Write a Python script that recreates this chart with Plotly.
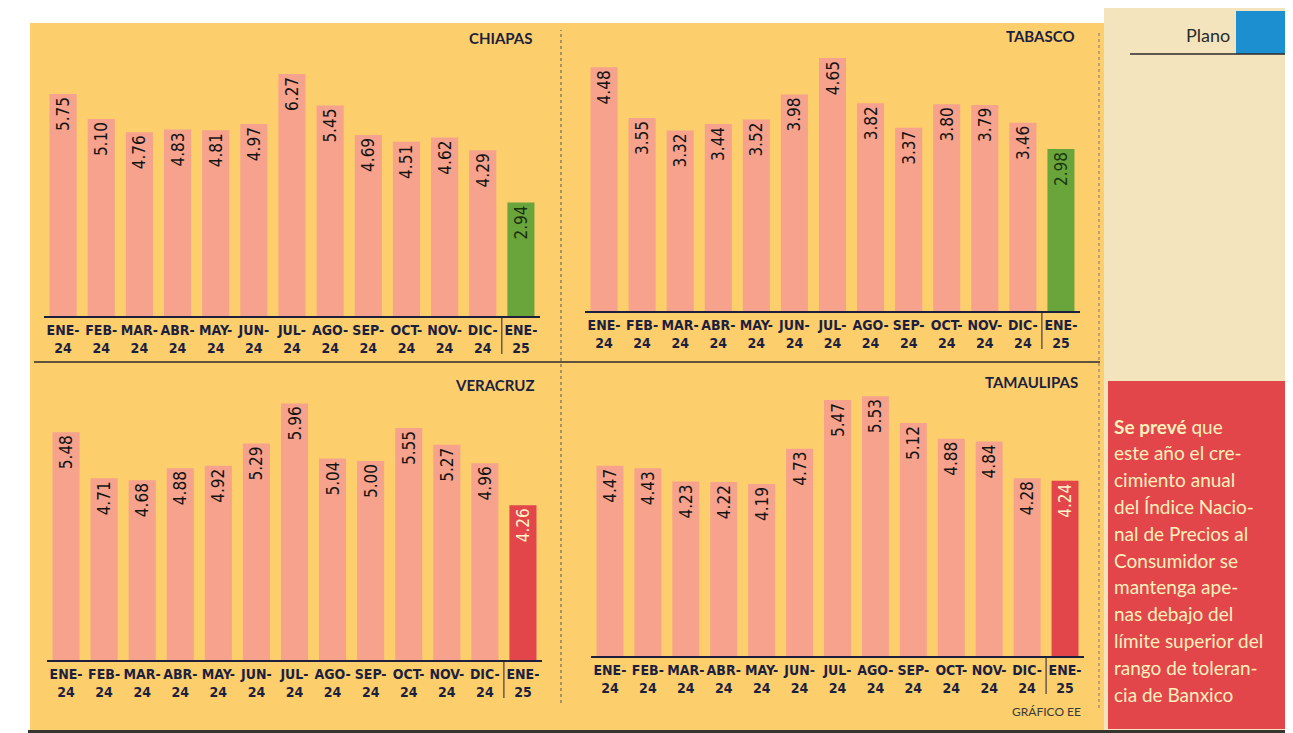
import plotly.graph_objects as go

W, H = 1293, 733

months = ["ENE-24", "FEB-24", "MAR-24", "ABR-24", "MAY-24", "JUN-24", "JUL-24",
          "AGO-24", "SEP-24", "OCT-24", "NOV-24", "DIC-24", "ENE-25"]
tick_labels = ["ENE-<br>24", "FEB-<br>24", "MAR-<br>24", "ABR-<br>24", "MAY-<br>24",
               "JUN-<br>24", "JUL-<br>24", "AGO-<br>24", "SEP-<br>24", "OCT-<br>24",
               "NOV-<br>24", "DIC-<br>24", "ENE-<br>25"]

chiapas = [5.75, 5.10, 4.76, 4.83, 4.81, 4.97, 6.27, 5.45, 4.69, 4.51, 4.62, 4.29, 2.94]
tabasco = [4.48, 3.55, 3.32, 3.44, 3.52, 3.98, 4.65, 3.82, 3.37, 3.80, 3.79, 3.46, 2.98]
veracruz = [5.48, 4.71, 4.68, 4.88, 4.92, 5.29, 5.96, 5.04, 5.00, 5.55, 5.27, 4.96, 4.26]
tamaulipas = [4.47, 4.43, 4.23, 4.22, 4.19, 4.73, 5.47, 5.53, 5.12, 4.88, 4.84, 4.28, 4.24]

panel_names = ["CHIAPAS", "TABASCO", "VERACRUZ", "TAMAULIPAS"]
panel_values = [chiapas, tabasco, veracruz, tamaulipas]

note_lines = ["<b>Se prevé</b> que", "este año el cre-", "cimiento anual",
              "del Índice Nacio-", "nal de Precios al", "Consumidor se",
              "mantenga ape-", "nas debajo del", "límite superior del",
              "rango de toleran-", "cia de Banxico"]

# ---- styling ----
YELLOW = "#fcce6c"
PINK = "#f6a28c"
GREEN = "#6aa53c"
RED = "#e2454a"
NAVY = "#1d1f3f"
NARROW = "Liberation Sans Narrow, DejaVu Sans Condensed, Roboto, Arial Narrow, sans-serif"
ROUND = "Lato, Noto Sans, sans-serif"

last_color = [GREEN, GREEN, RED, RED]
last_text = ["#1b3010", "#1b3a12", "#fff4c8", "#fff4c8"]

# panel geometry in pixels: x0, x1, y_bottom, y_top ; y range
geo = [
    (36, 532, 308, 30, [0, 7.20]),
    (577, 1072, 303, 30, [0, 5.02]),
    (39, 534, 652, 375, [1.68, 6.30]),
    (583, 1076, 648, 375, [1.57, 5.73]),
]
title_pos = [(527, 30), (1069, 28), (528, 377), (1072, 374)]


def fx(px):
    return px / W


def fy(py):
    return 1 - py / H


fig = go.Figure()
layout = dict(
    width=W, height=H, margin=dict(l=0, r=0, t=0, b=0),
    paper_bgcolor="white", plot_bgcolor="rgba(0,0,0,0)",
    showlegend=False, bargap=0.29,
    shapes=[], annotations=[],
)

for i, (name, vals) in enumerate(zip(panel_names, panel_values)):
    ax = "" if i == 0 else str(i + 1)
    colors = [PINK] * (len(vals) - 1) + [last_color[i]]
    tcolors = ["#141414"] * (len(vals) - 1) + [last_text[i]]
    fig.add_trace(go.Bar(
        x=months, y=vals, xaxis="x" + ax, yaxis="y" + ax,
        marker=dict(color=colors, line=dict(width=0)),
        texttemplate="%{y:.2f}", textposition="inside", insidetextanchor="end",
        textangle=-90, constraintext="none",
        textfont=dict(family=NARROW, size=17, color=tcolors),
        hoverinfo="skip", cliponaxis=True,
    ))
    x0, x1, yb, yt, yr = geo[i]
    layout["xaxis" + ax] = dict(
        domain=[fx(x0), fx(x1)], anchor="y" + ax, type="category",
        categoryorder="array", categoryarray=months,
        tickvals=months, ticktext=tick_labels, range=[-0.5, 12.5],
        showline=True, linecolor=NAVY, linewidth=1.5, ticks="",
        showgrid=False, zeroline=False, fixedrange=True,
        tickfont=dict(family=NARROW, size=14, color=NAVY, weight="bold"),
    )
    layout["yaxis" + ax] = dict(
        domain=[fy(yb), fy(yt)], anchor="x" + ax, range=yr,
        visible=False, showgrid=False, zeroline=False, fixedrange=True,
    )
    # separator between DIC-24 and ENE-25
    layout["shapes"].append(dict(
        type="line", xref="x" + ax, yref="paper", x0=11.5, x1=11.5,
        y0=fy(yb), y1=fy(yb + 38), line=dict(color=NAVY, width=1)))
    tx, ty = title_pos[i]
    layout["annotations"].append(dict(
        text="<b>%s</b>" % name, x=fx(tx), y=fy(ty), xref="paper", yref="paper",
        xanchor="right", yanchor="middle", showarrow=False,
        font=dict(family=ROUND, size=15, color=NAVY)))

# page background pieces
bg_shapes = [
    dict(type="rect", xref="paper", yref="paper", x0=fx(1096), x1=1, y0=fy(722), y1=1,
         fillcolor="#f3e4bd", line=dict(width=0), layer="below"),
    dict(type="rect", xref="paper", yref="paper", x0=fx(22), x1=fx(1096), y0=fy(722), y1=fy(15),
         fillcolor=YELLOW, line=dict(width=0), layer="below"),
    dict(type="rect", xref="paper", yref="paper", x0=fx(20), x1=1, y0=0, y1=fy(722),
         fillcolor="#36352f", line=dict(width=0), layer="below"),
    dict(type="rect", xref="paper", yref="paper", x0=fx(1100), x1=fx(1289), y0=fy(721), y1=fy(373),
         fillcolor=RED, line=dict(width=0), layer="below"),
    dict(type="rect", xref="paper", yref="paper", x0=fx(1228), x1=fx(1282), y0=fy(46), y1=fy(3),
         fillcolor="#1b8fcf", line=dict(width=0), layer="below"),
    dict(type="line", xref="paper", yref="paper", x0=fx(1122), x1=fx(1282), y0=fy(46), y1=fy(46),
         line=dict(color="#2a2a2a", width=1.5)),
    dict(type="line", xref="paper", yref="paper", x0=fx(26), x1=fx(1092), y0=fy(354), y1=fy(354),
         line=dict(color="#2b2b2b", width=1.5)),
    dict(type="line", xref="paper", yref="paper", x0=fx(553), x1=fx(553), y0=fy(695), y1=fy(22),
         line=dict(color="#555555", width=1, dash="dot")),
    dict(type="line", xref="paper", yref="paper", x0=fx(1091), x1=fx(1091), y0=fy(700), y1=fy(22),
         line=dict(color="#777777", width=1, dash="dot")),
]
layout["shapes"] = bg_shapes + layout["shapes"]

# side note
for k, line in enumerate(note_lines):
    layout["annotations"].append(dict(
        text=line, x=fx(1104), y=fy(418 + k * 26.8), xref="paper", yref="paper",
        xanchor="left", yanchor="middle", showarrow=False,
        font=dict(family=ROUND, size=19, color="#fdf1bd")))

layout["annotations"].append(dict(
    text="GRÁFICO EE", x=fx(1075), y=fy(703), xref="paper", yref="paper",
    xanchor="right", yanchor="middle", showarrow=False,
    font=dict(family=ROUND, size=12, color="#3a3a3a")))
layout["annotations"].append(dict(
    text="Plano", x=fx(1224), y=fy(27), xref="paper", yref="paper",
    xanchor="right", yanchor="middle", showarrow=False,
    font=dict(family=ROUND, size=18, color="#2a2a2a")))

fig.update_layout(**layout)
fig.write_html("out.html")
